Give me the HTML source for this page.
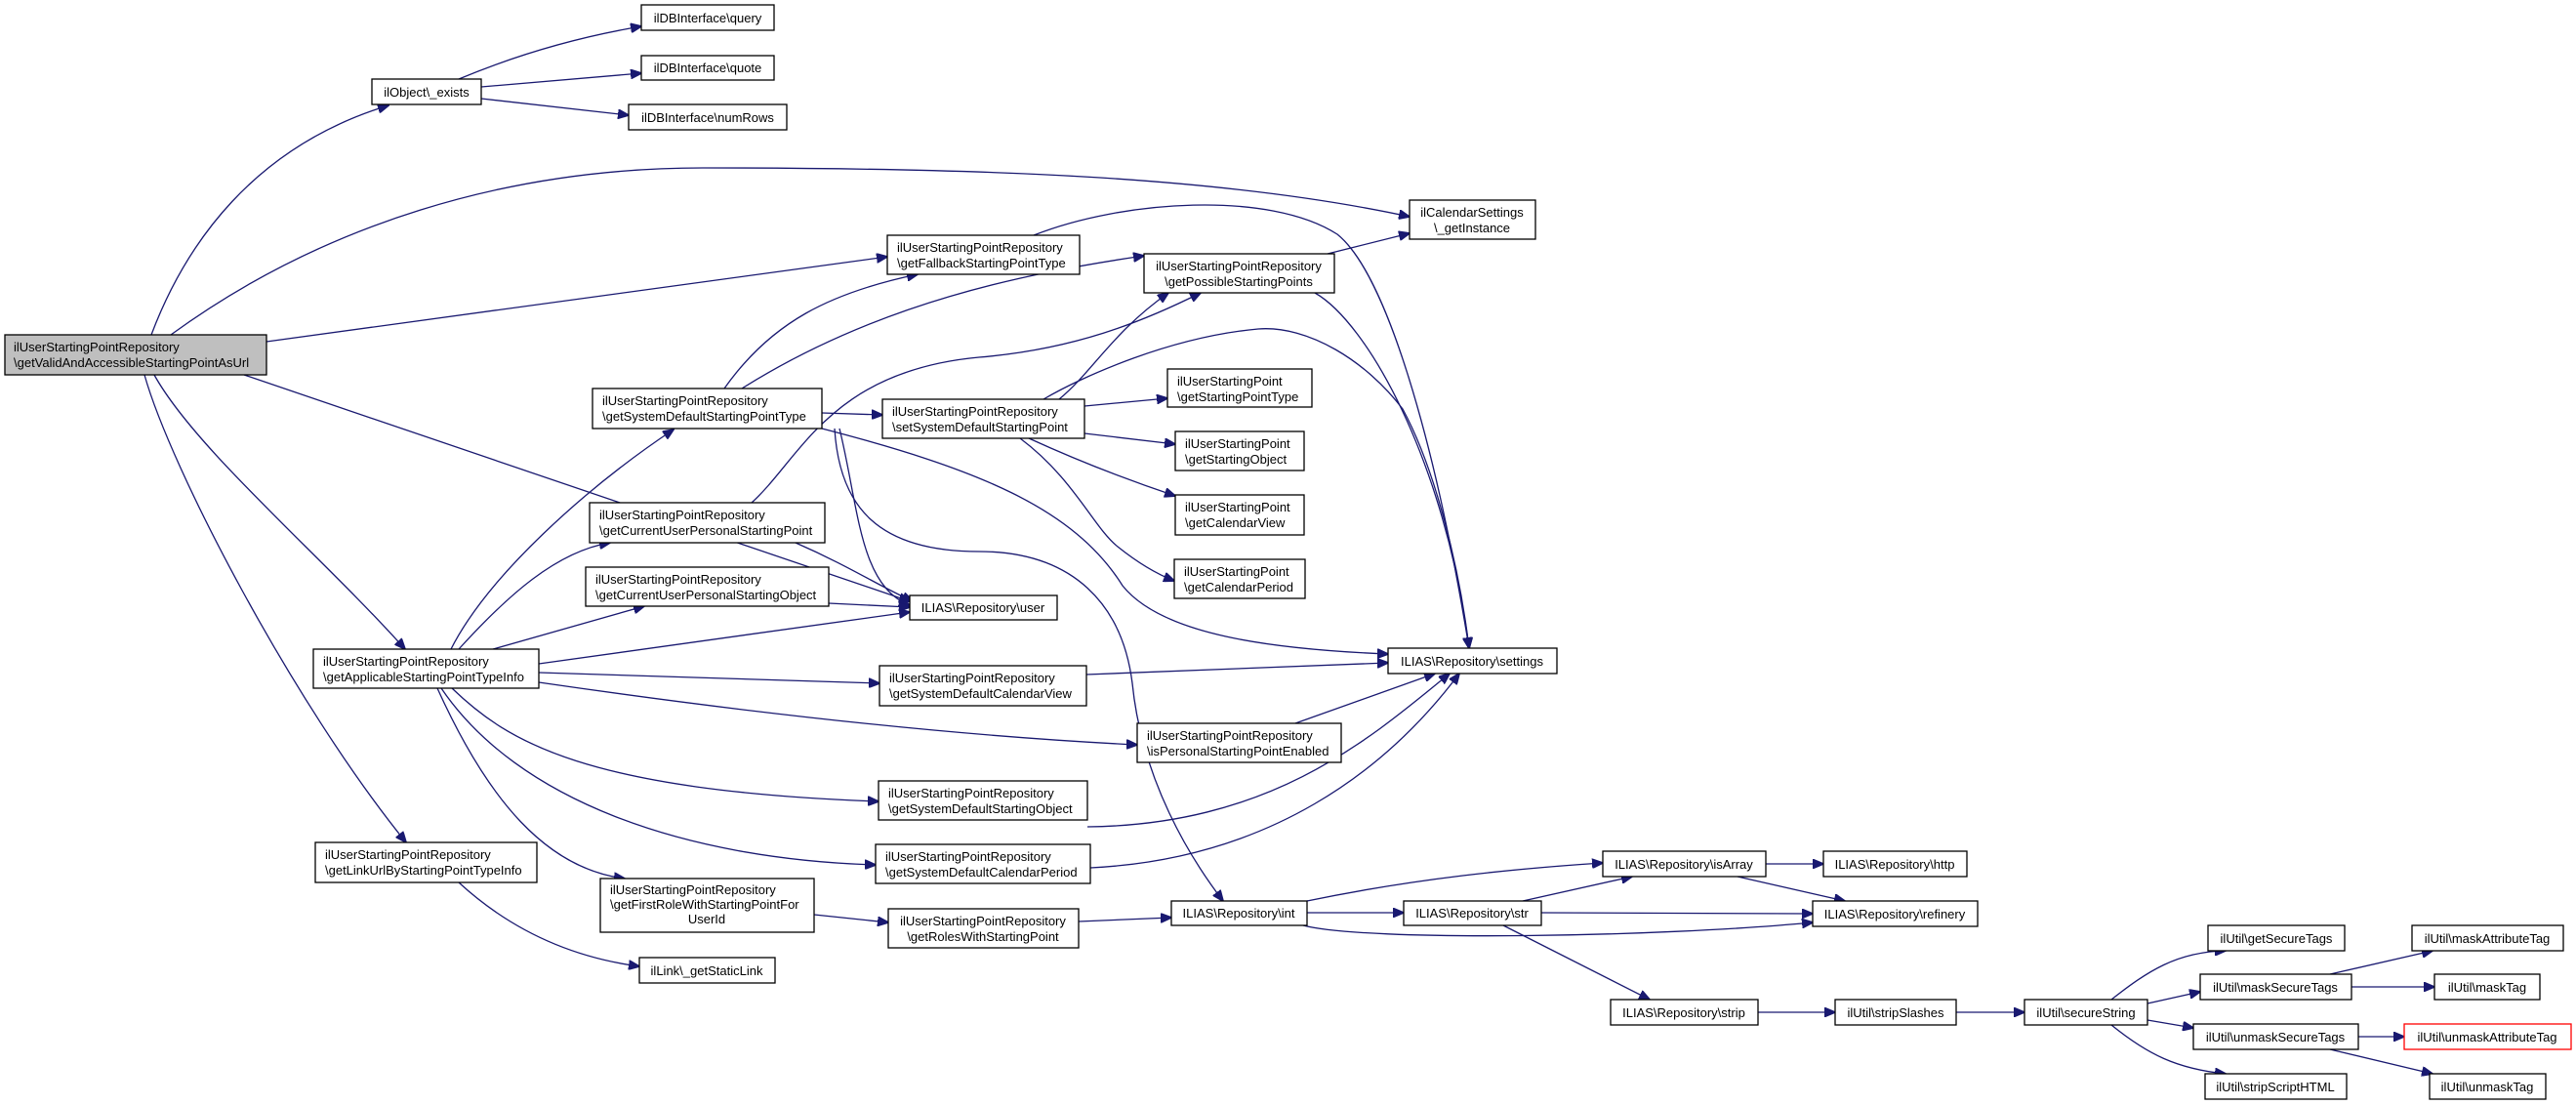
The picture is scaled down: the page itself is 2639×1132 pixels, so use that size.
<!DOCTYPE html>
<html><head><meta charset="utf-8"><style>
html,body{margin:0;padding:0;background:#fff;}
svg{display:block;}
text{font-family:"Liberation Sans",Arial,sans-serif;font-size:13px;fill:#000;}
.n{fill:#fff;stroke:#000;stroke-width:1.3;}
.e{fill:none;stroke:#191970;stroke-width:1.3;}
</style></head><body>
<svg width="2639" height="1132" viewBox="0 0 2639 1132" xmlns="http://www.w3.org/2000/svg">
<defs><marker id="a" markerWidth="12" markerHeight="10" refX="11" refY="5" orient="auto" markerUnits="userSpaceOnUse"><path d="M0,0 L12,5 L0,10 z" fill="#191970" stroke="#191970"/></marker></defs>
<g class="e" marker-end="url(#a)">
<path d="M155,343 C190,250 260,150 398,108"/>
<path d="M175,343 C330,230 520,172 720,172 C1000,172 1250,180 1444,222"/>
<path d="M273,350 L909,263"/>
<path d="M250,384 L932,616"/>
<path d="M158,384 C200,460 330,570 415,665"/>
<path d="M148,384 C175,480 300,720 416,863"/>
<path d="M470,81 C520,60 580,40 657,27"/>
<path d="M493,89 L657,75"/>
<path d="M493,101 L644,118"/>
<path d="M462,665 C500,590 600,500 690,440"/>
<path d="M470,665 C520,610 570,565 625,556"/>
<path d="M505,665 L660,621"/>
<path d="M552,680 L932,627"/>
<path d="M552,689 L901,700"/>
<path d="M552,699 C800,735 1000,755 1165,763"/>
<path d="M463,705 C520,760 600,810 900,821"/>
<path d="M452,705 C530,820 700,880 897,886"/>
<path d="M448,705 C500,820 560,890 640,900"/>
<path d="M470,904 C520,950 580,980 655,990"/>
<path d="M834,937 L910,945"/>
<path d="M742,398 C790,330 850,300 940,281"/>
<path d="M760,398 C900,310 1050,280 1172,262"/>
<path d="M842,423 L904,425"/>
<path d="M860,439 C880,520 880,600 932,620"/>
<path d="M842,439 C1000,480 1100,520 1150,600 C1190,650 1300,665 1422,670"/>
<path d="M855,439 C860,520 900,565 1003,565 C1100,565 1150,620 1160,700 C1170,800 1220,880 1253,923"/>
<path d="M770,515 C820,470 850,380 1003,366 C1100,358 1170,330 1230,300"/>
<path d="M815,556 C870,580 900,600 935,616"/>
<path d="M849,618 L932,622"/>
<path d="M1085,409 C1120,380 1140,340 1197,300"/>
<path d="M1069,409 C1110,385 1200,345 1289,337 C1340,333 1400,370 1437,419 C1470,480 1495,580 1505,664"/>
<path d="M1111,416 L1196,408"/>
<path d="M1111,444 L1204,455"/>
<path d="M1054,449 C1100,470 1150,490 1204,508"/>
<path d="M1045,449 C1100,490 1120,540 1145,560 C1170,580 1190,590 1203,595"/>
<path d="M1059,241 C1150,205 1300,195 1370,240 C1420,280 1470,450 1505,664"/>
<path d="M1360,260 L1444,239"/>
<path d="M1347,300 C1400,330 1480,470 1505,664"/>
<path d="M1113,691 L1422,679"/>
<path d="M1327,741 L1470,690"/>
<path d="M1114,847 C1300,845 1400,760 1485,690"/>
<path d="M1117,889 C1300,880 1420,790 1495,690"/>
<path d="M1105,944 L1200,940"/>
<path d="M1339,923 C1450,900 1550,890 1642,884"/>
<path d="M1339,935 L1438,935"/>
<path d="M1335,948 C1400,965 1700,960 1857,945"/>
<path d="M1560,923 L1672,898"/>
<path d="M1579,935 L1857,936"/>
<path d="M1540,948 L1690,1024"/>
<path d="M1809,885 L1868,885"/>
<path d="M1780,898 L1890,923"/>
<path d="M1801,1037 L1880,1037"/>
<path d="M2004,1037 L2074,1037"/>
<path d="M2163,1024 C2200,995 2230,975 2280,974"/>
<path d="M2200,1028 L2254,1016"/>
<path d="M2200,1045 L2247,1053"/>
<path d="M2163,1050 C2200,1080 2230,1095 2280,1100"/>
<path d="M2387,998 L2492,974"/>
<path d="M2409,1011 L2494,1011"/>
<path d="M2416,1062 L2463,1062"/>
<path d="M2387,1075 L2492,1100"/>
</g>
<g>
<rect x="5" y="343" width="268" height="41" fill="#bfbfbf" stroke="#000" stroke-width="1.3"/>
<text x="14" y="360">ilUserStartingPointRepository</text><text x="14" y="376">\getValidAndAccessibleStartingPointAsUrl</text>
<rect class="n" x="381" y="81" width="112" height="26"/><text x="437" y="99" text-anchor="middle">ilObject\_exists</text>
<rect class="n" x="657" y="5" width="136" height="26"/><text x="725" y="23" text-anchor="middle">ilDBInterface\query</text>
<rect class="n" x="657" y="57" width="136" height="25"/><text x="725" y="74" text-anchor="middle">ilDBInterface\quote</text>
<rect class="n" x="644" y="107" width="162" height="26"/><text x="725" y="125" text-anchor="middle">ilDBInterface\numRows</text>
<rect class="n" x="607" y="398" width="235" height="41"/><text x="617" y="415">ilUserStartingPointRepository</text><text x="617" y="431">\getSystemDefaultStartingPointType</text>
<rect class="n" x="604" y="515" width="241" height="41"/><text x="614" y="532">ilUserStartingPointRepository</text><text x="614" y="548">\getCurrentUserPersonalStartingPoint</text>
<rect class="n" x="600" y="581" width="249" height="40"/><text x="610" y="598">ilUserStartingPointRepository</text><text x="610" y="614">\getCurrentUserPersonalStartingObject</text>
<rect class="n" x="321" y="665" width="231" height="40"/><text x="331" y="682">ilUserStartingPointRepository</text><text x="331" y="698">\getApplicableStartingPointTypeInfo</text>
<rect class="n" x="323" y="863" width="227" height="41"/><text x="333" y="880">ilUserStartingPointRepository</text><text x="333" y="896">\getLinkUrlByStartingPointTypeInfo</text>
<rect class="n" x="615" y="900" width="219" height="55"/><text x="625" y="916">ilUserStartingPointRepository</text><text x="625" y="931">\getFirstRoleWithStartingPointFor</text><text x="724" y="946" text-anchor="middle">UserId</text>
<rect class="n" x="655" y="981" width="139" height="26"/><text x="724" y="999" text-anchor="middle">ilLink\_getStaticLink</text>
<rect class="n" x="1444" y="205" width="129" height="40"/><text x="1508" y="222" text-anchor="middle">ilCalendarSettings</text><text x="1508" y="238" text-anchor="middle">\_getInstance</text>
<rect class="n" x="909" y="241" width="197" height="40"/><text x="919" y="258">ilUserStartingPointRepository</text><text x="919" y="274">\getFallbackStartingPointType</text>
<rect class="n" x="1172" y="260" width="195" height="40"/><text x="1269" y="277" text-anchor="middle">ilUserStartingPointRepository</text><text x="1269" y="293" text-anchor="middle">\getPossibleStartingPoints</text>
<rect class="n" x="904" y="409" width="207" height="40"/><text x="914" y="426">ilUserStartingPointRepository</text><text x="914" y="442">\setSystemDefaultStartingPoint</text>
<rect class="n" x="1196" y="378" width="148" height="39"/><text x="1206" y="395">ilUserStartingPoint</text><text x="1206" y="411">\getStartingPointType</text>
<rect class="n" x="1204" y="442" width="132" height="40"/><text x="1214" y="459">ilUserStartingPoint</text><text x="1214" y="475">\getStartingObject</text>
<rect class="n" x="1204" y="507" width="132" height="41"/><text x="1214" y="524">ilUserStartingPoint</text><text x="1214" y="540">\getCalendarView</text>
<rect class="n" x="1203" y="573" width="134" height="40"/><text x="1213" y="590">ilUserStartingPoint</text><text x="1213" y="606">\getCalendarPeriod</text>
<rect class="n" x="932" y="610" width="151" height="25"/><text x="1007" y="627" text-anchor="middle">ILIAS\Repository\user</text>
<rect class="n" x="1422" y="664" width="173" height="26"/><text x="1508" y="682" text-anchor="middle">ILIAS\Repository\settings</text>
<rect class="n" x="901" y="682" width="212" height="41"/><text x="911" y="699">ilUserStartingPointRepository</text><text x="911" y="715">\getSystemDefaultCalendarView</text>
<rect class="n" x="1165" y="741" width="209" height="40"/><text x="1175" y="758">ilUserStartingPointRepository</text><text x="1175" y="774">\isPersonalStartingPointEnabled</text>
<rect class="n" x="900" y="800" width="214" height="40"/><text x="910" y="817">ilUserStartingPointRepository</text><text x="910" y="833">\getSystemDefaultStartingObject</text>
<rect class="n" x="897" y="865" width="220" height="40"/><text x="907" y="882">ilUserStartingPointRepository</text><text x="907" y="898">\getSystemDefaultCalendarPeriod</text>
<rect class="n" x="910" y="931" width="195" height="40"/><text x="1007" y="948" text-anchor="middle">ilUserStartingPointRepository</text><text x="1007" y="964" text-anchor="middle">\getRolesWithStartingPoint</text>
<rect class="n" x="1200" y="923" width="139" height="25"/><text x="1269" y="940" text-anchor="middle">ILIAS\Repository\int</text>
<rect class="n" x="1438" y="923" width="141" height="25"/><text x="1508" y="940" text-anchor="middle">ILIAS\Repository\str</text>
<rect class="n" x="1642" y="872" width="167" height="26"/><text x="1725" y="890" text-anchor="middle">ILIAS\Repository\isArray</text>
<rect class="n" x="1868" y="872" width="147" height="26"/><text x="1941" y="890" text-anchor="middle">ILIAS\Repository\http</text>
<rect class="n" x="1857" y="923" width="169" height="26"/><text x="1941" y="941" text-anchor="middle">ILIAS\Repository\refinery</text>
<rect class="n" x="1650" y="1024" width="151" height="26"/><text x="1725" y="1042" text-anchor="middle">ILIAS\Repository\strip</text>
<rect class="n" x="1880" y="1024" width="124" height="26"/><text x="1942" y="1042" text-anchor="middle">ilUtil\stripSlashes</text>
<rect class="n" x="2074" y="1024" width="126" height="26"/><text x="2137" y="1042" text-anchor="middle">ilUtil\secureString</text>
<rect class="n" x="2262" y="948" width="140" height="26"/><text x="2332" y="966" text-anchor="middle">ilUtil\getSecureTags</text>
<rect class="n" x="2254" y="998" width="155" height="26"/><text x="2331" y="1016" text-anchor="middle">ilUtil\maskSecureTags</text>
<rect class="n" x="2247" y="1049" width="169" height="26"/><text x="2331" y="1067" text-anchor="middle">ilUtil\unmaskSecureTags</text>
<rect class="n" x="2259" y="1100" width="145" height="26"/><text x="2331" y="1118" text-anchor="middle">ilUtil\stripScriptHTML</text>
<rect class="n" x="2471" y="948" width="155" height="26"/><text x="2548" y="966" text-anchor="middle">ilUtil\maskAttributeTag</text>
<rect class="n" x="2494" y="998" width="108" height="26"/><text x="2548" y="1016" text-anchor="middle">ilUtil\maskTag</text>
<rect x="2463" y="1049" width="171" height="26" fill="#fff" stroke="#ff0000" stroke-width="1.3"/><text x="2548" y="1067" text-anchor="middle">ilUtil\unmaskAttributeTag</text>
<rect class="n" x="2489" y="1100" width="119" height="26"/><text x="2548" y="1118" text-anchor="middle">ilUtil\unmaskTag</text>
</g>
</svg>
</body></html>
